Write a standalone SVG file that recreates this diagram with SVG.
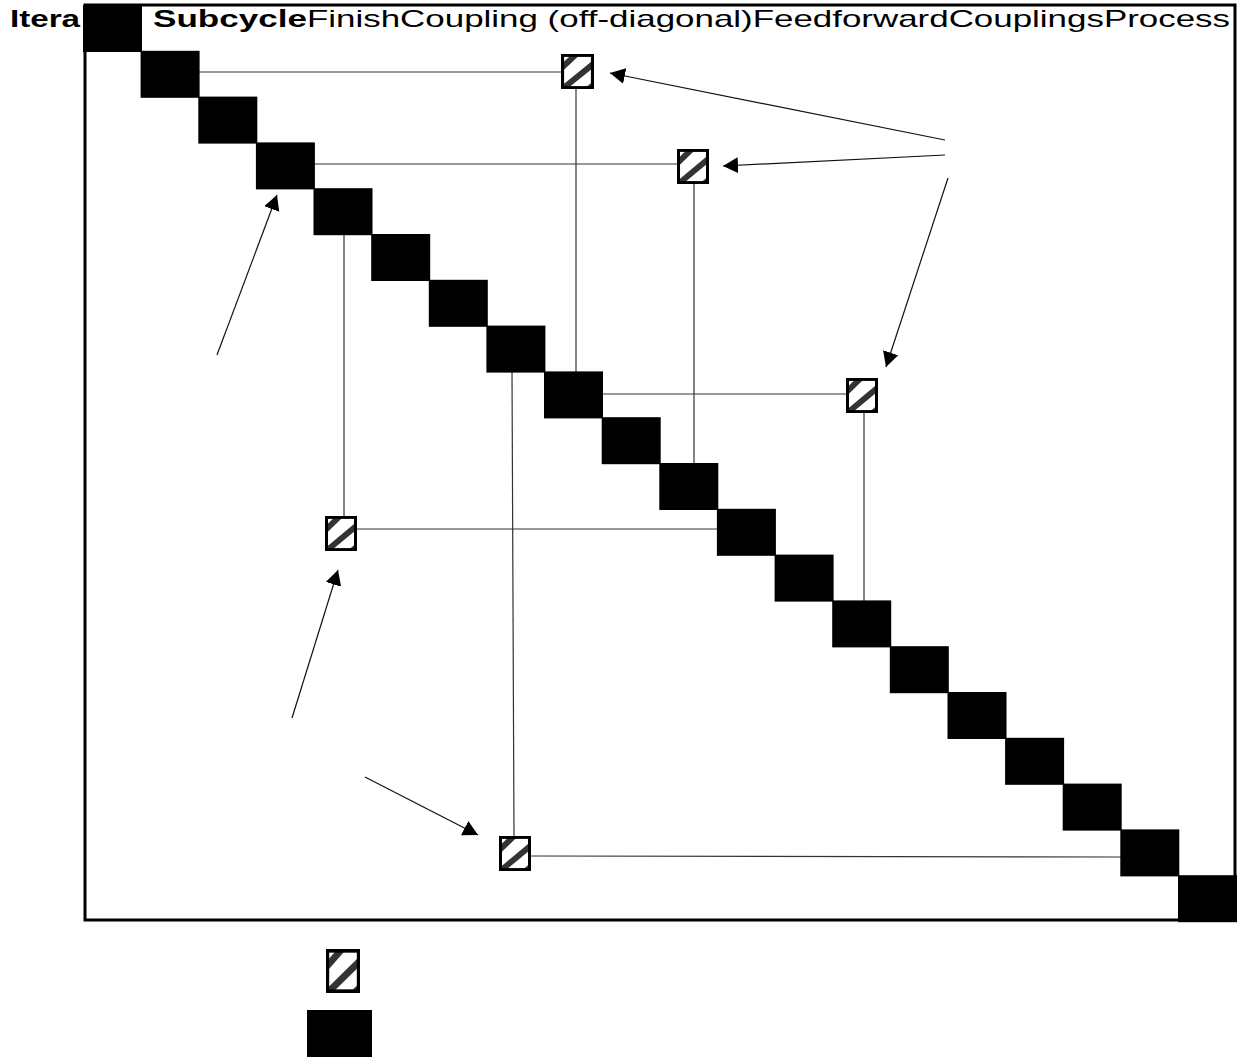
<svg xmlns="http://www.w3.org/2000/svg" width="1243" height="1063" viewBox="0 0 1243 1063">
<style>
.t{font-family:"Liberation Sans",Arial,sans-serif;font-size:24px;fill:#000}
.b{font-weight:bold}
.blk{fill:#000}
.c{stroke:#333;stroke-width:1.2;fill:none}
.a{stroke:#111;stroke-width:1.2;fill:none;marker-end:url(#ah)}
.frame{fill:none;stroke:#000;stroke-width:3}
</style>
<defs>
<marker id="ah" markerUnits="userSpaceOnUse" markerWidth="17" markerHeight="17" refX="15" refY="8" orient="auto">
<path d="M0,0 L15,8 L0,16 z" fill="#000"/>
</marker>
<clipPath id="hc"><rect x="0" y="0" width="32" height="36"/></clipPath>
<symbol id="hatch" viewBox="0 0 32 36" preserveAspectRatio="none">
<rect x="1.5" y="1.5" width="29" height="33" fill="#fff"/>
<g clip-path="url(#hc)" stroke="#333" stroke-width="6">
<line x1="-2" y1="17" x2="17" y2="-2"/>
<line x1="0" y1="37" x2="34" y2="8"/>
<line x1="22" y1="40" x2="36" y2="28"/>
</g>
<rect x="1.5" y="1.5" width="29" height="33" fill="none" stroke="#000" stroke-width="3"/>
</symbol>
</defs>
<rect width="1243" height="1063" fill="#fff"/>
<g id="header">
<text class="t b" x="10" y="27" textLength="70" lengthAdjust="spacingAndGlyphs">Itera</text>
<text class="t b" x="153" y="27" textLength="154" lengthAdjust="spacingAndGlyphs">Subcycle</text>
<text class="t" x="307" y="27" textLength="923" lengthAdjust="spacingAndGlyphs">FinishCoupling (off-diagonal)FeedforwardCouplingsProcess</text>
</g>
<rect class="frame" x="85" y="5" width="1150" height="915"/>
<g id="connectors">
<line class="c" x1="199" y1="72" x2="561" y2="72"/>
<line class="c" x1="576" y1="89" x2="576" y2="372"/>
<line class="c" x1="315" y1="164" x2="677" y2="164"/>
<line class="c" x1="694" y1="184" x2="694" y2="464"/>
<line class="c" x1="344" y1="235" x2="344" y2="516"/>
<line class="c" x1="357" y1="529" x2="718" y2="529"/>
<line class="c" x1="602" y1="394" x2="846" y2="394"/>
<line class="c" x1="864" y1="413" x2="864" y2="601"/>
<line class="c" x1="512" y1="372" x2="514" y2="836"/>
<line class="c" x1="531" y1="856" x2="1121" y2="857"/>
<line class="a" x1="945" y1="140" x2="610" y2="73"/>
<line class="a" x1="945" y1="155" x2="723" y2="166"/>
<line class="a" x1="948" y1="178" x2="886" y2="367"/>
<line class="a" x1="217" y1="355" x2="277" y2="195"/>
<line class="a" x1="292" y1="718" x2="338" y2="570"/>
<line class="a" x1="365" y1="777" x2="478" y2="835"/>
</g>
<g id="diag">
<g id="p1"><rect class="blk" x="83" y="5" width="59" height="47"/></g>
<g id="p2"><rect class="blk" x="140.6" y="50.8" width="59" height="47"/></g>
<g id="p3"><rect class="blk" x="198.3" y="96.6" width="59" height="47"/></g>
<g id="p4"><rect class="blk" x="255.9" y="142.4" width="59" height="47"/></g>
<g id="p5"><rect class="blk" x="313.5" y="188.2" width="59" height="47"/></g>
<g id="p6"><rect class="blk" x="371.2" y="234" width="59" height="47"/></g>
<g id="p7"><rect class="blk" x="428.8" y="279.8" width="59" height="47"/></g>
<g id="p8"><rect class="blk" x="486.4" y="325.6" width="59" height="47"/></g>
<g id="p9"><rect class="blk" x="544" y="371.4" width="59" height="47"/></g>
<g id="p10"><rect class="blk" x="601.7" y="417.2" width="59" height="47"/></g>
<g id="p11"><rect class="blk" x="659.3" y="463" width="59" height="47"/></g>
<g id="p12"><rect class="blk" x="716.9" y="508.8" width="59" height="47"/></g>
<g id="p13"><rect class="blk" x="774.6" y="554.6" width="59" height="47"/></g>
<g id="p14"><rect class="blk" x="832.2" y="600.4" width="59" height="47"/></g>
<g id="p15"><rect class="blk" x="889.8" y="646.2" width="59" height="47"/></g>
<g id="p16"><rect class="blk" x="947.5" y="692" width="59" height="47"/></g>
<g id="p17"><rect class="blk" x="1005.1" y="737.8" width="59" height="47"/></g>
<g id="p18"><rect class="blk" x="1062.7" y="783.6" width="59" height="47"/></g>
<g id="p19"><rect class="blk" x="1120.3" y="829.4" width="59" height="47"/></g>
<g id="p20"><rect class="blk" x="1178" y="875.2" width="59" height="47"/></g>
</g>
<g id="couplings">
<g id="cA"><use href="#hatch" x="561" y="54" width="33" height="35"/></g>
<g id="cB"><use href="#hatch" x="677" y="149" width="32" height="35"/></g>
<g id="cC"><use href="#hatch" x="846" y="378" width="32" height="35"/></g>
<g id="cD"><use href="#hatch" x="325" y="516" width="32" height="35"/></g>
<g id="cE"><use href="#hatch" x="499" y="836" width="32" height="35"/></g>
</g>
<g id="legend">
<g id="legHatch"><use href="#hatch" x="326" y="949" width="34" height="44"/></g>
<g id="legBlock"><rect class="blk" x="307" y="1010" width="65" height="47"/></g>
</g>
</svg>
